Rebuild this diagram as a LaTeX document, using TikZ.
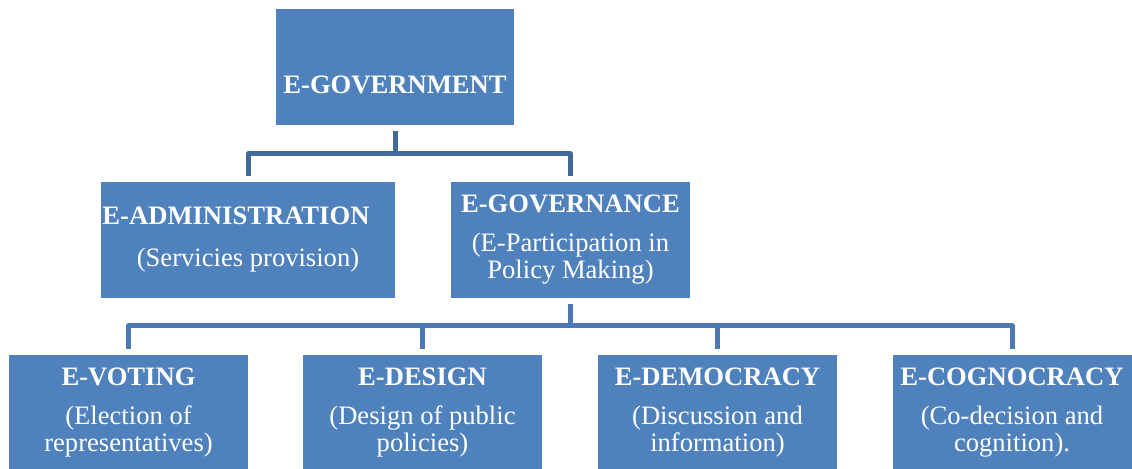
\documentclass[tikz,border=0pt]{standalone}
\usepackage{fontspec}
\setmainfont{Liberation Serif}
\definecolor{boxblue}{HTML}{4F81BD}
\definecolor{linkup}{HTML}{41699C}
\definecolor{linkdown}{HTML}{4A79B5}

\begin{document}
\begin{tikzpicture}[x=0.5pt, y=-0.5pt, line join=round,
    box/.style={fill=boxblue, text=white, inner sep=0pt, outer sep=3pt,
        minimum width=119.5pt, minimum height=58pt, align=center,
        font=\fontsize{13.3}{13.5}\selectfont},
    link/.style={line width=2.5pt}]

    \useasboundingbox (0, 0) rectangle (1132, 469);

    % top level
    \node[box, minimum width=119pt, text height=27pt] (govt) at (395, 67) {\textbf{E-GOVERNMENT}};

    % second level
    \node[box, minimum width=147pt] (admin) at (248, 240) {\textbf{E-ADMINISTRATION}\kern12pt\\[7.5pt] (Servicies provision)};
    \node[box] (gov) at (570.5, 240) {\textbf{E-GOVERNANCE}\\[6pt] (E-Participation in\\ Policy Making)};

    % third level
    \node[box] (vote) at (128.5, 413) {\textbf{E-VOTING}\\[6pt] (Election of\\ representatives)};
    \node[box] (design) at (422.5, 413) {\textbf{E-DESIGN}\\[6pt] (Design of public\\ policies)};
    \node[box] (demo) at (717.5, 413) {\textbf{E-DEMOCRACY}\\[6pt] (Discussion and\\ information)};
    \node[box] (cogno) at (1012, 413) {\textbf{E-COGNOCRACY}\\[6pt] (Co-decision and\\ cognition).};

    \draw[link, linkup] (govt.south) -- ++(0, 23) -| (admin.north);
    \draw[link, linkup] (govt.south) ++(0, 23) -| (gov.north);

    \draw[link, linkdown] (gov.south) -- ++(0, 22) -| (vote.north);
    \draw[link, linkdown] (gov.south) ++(0, 22) -| (design.north);
    \draw[link, linkdown] (gov.south) ++(0, 22) -| (demo.north);
    \draw[link, linkdown] (gov.south) ++(0, 22) -| (cogno.north);

\end{tikzpicture}
\end{document}
